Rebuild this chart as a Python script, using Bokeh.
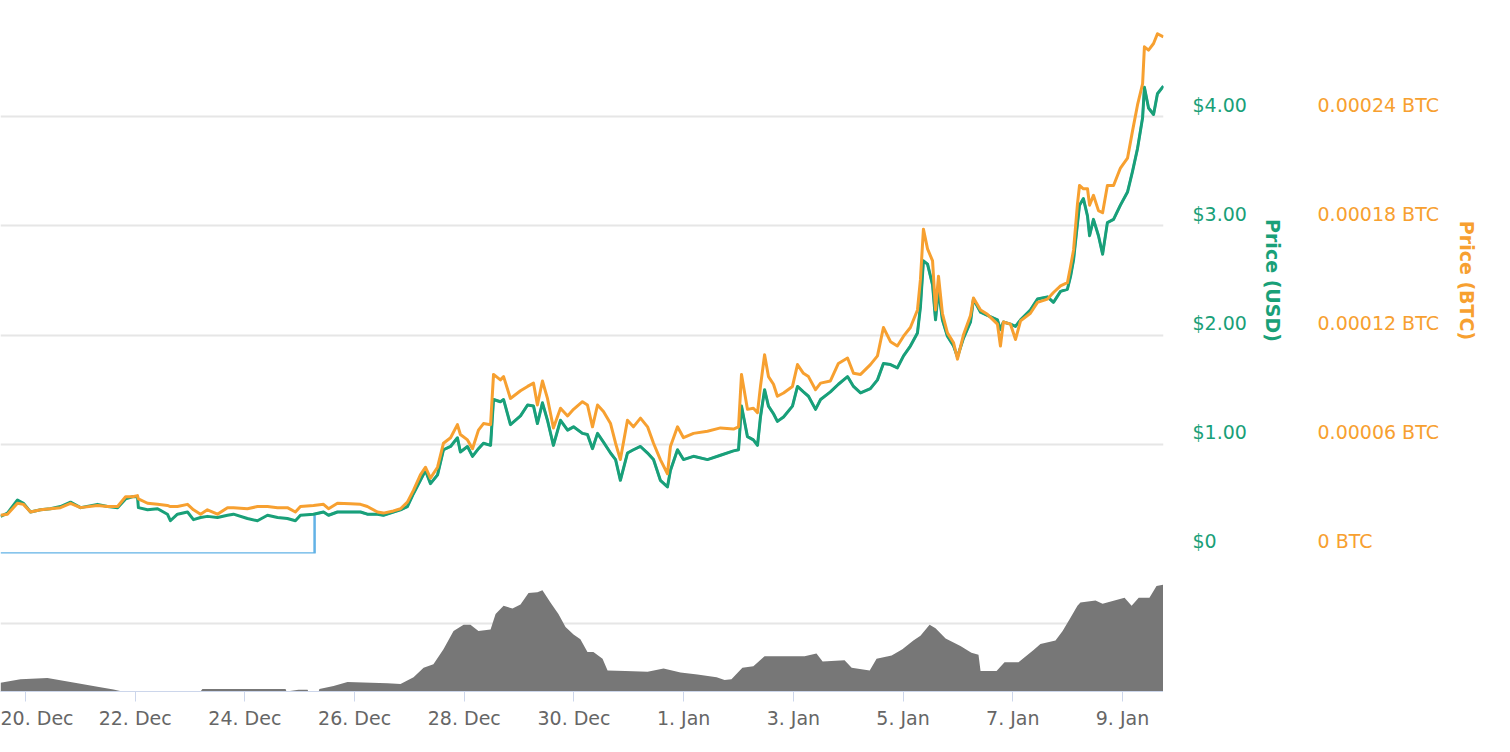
import pandas as pd
from bokeh.plotting import figure
from bokeh.layouts import column
from bokeh.models import (Range1d, LinearAxis, FixedTicker, CustomJSTickFormatter, Grid,
                          DatetimeTickFormatter)
from bokeh.embed import file_html
from bokeh.resources import INLINE

BASE = pd.Timestamp("2017-12-20 00:00")

# ---- price series (hours since 20 Dec 2017 00:00) ----
price_hours = [
    -10.9, -7.9, -3.5, -0.9, 2.2, 6.6, 10.9, 15.3, 19.7, 24.1,
    31.5, 35.9, 40.3, 43.8, 46.8, 49.0, 49.4, 53.4, 57.8, 62.1,
    63.4, 66.5, 70.9, 73.5, 76.6, 79.6, 84.0, 88.4, 91.0, 97.1,
    101.5, 105.9, 110.3, 114.6, 118.1, 120.3, 126.0, 130.4, 132.6, 136.5,
    142.2, 146.6, 149.6, 154.0, 156.6, 161.0, 164.1, 167.1, 169.8, 172.8,
    175.0, 177.2, 180.3, 182.9, 186.0, 189.0, 190.3, 193.4, 195.6, 198.2,
    200.4, 203.5, 204.8, 207.8, 209.2, 212.2, 216.6, 219.7, 222.3, 224.0,
    226.2, 228.4, 231.0, 234.1, 237.2, 239.8, 243.7, 245.9, 248.1, 250.3,
    252.9, 256.0, 258.2, 260.3, 263.4, 266.0, 269.1, 272.2, 274.8, 277.8,
    280.9, 282.2, 285.3, 287.9, 292.3, 298.4, 304.1, 309.8, 312.0, 313.3,
    315.9, 318.5, 320.3, 321.6, 323.4, 325.1, 327.3, 329.0, 331.7, 335.6,
    337.8, 340.4, 342.6, 345.7, 347.9, 352.2, 355.7, 359.7, 362.3, 365.4,
    369.7, 372.8, 375.4, 378.5, 381.5, 384.2, 387.2, 390.3, 391.6, 392.9,
    394.7, 396.9, 398.2, 399.5, 401.2, 403.4, 406.1, 407.8, 410.4, 413.5,
    414.8, 417.9, 420.9, 425.3, 426.6, 427.9, 431.0, 433.2, 435.4, 439.7,
    442.8, 447.2, 449.8, 452.9, 455.9, 457.3, 458.6, 460.3, 461.2, 462.9,
    464.7, 465.6, 467.3, 469.5, 471.3, 473.4, 476.1, 479.1, 482.2, 484.4,
    486.6, 488.8, 489.6, 491.4, 493.6, 495.3, 497.9,
]
price_usd = [
    0.34, 0.37, 0.49, 0.46, 0.38, 0.40, 0.41, 0.43, 0.47, 0.42,
    0.45, 0.43, 0.42, 0.50, 0.52, 0.52, 0.42, 0.40, 0.41, 0.36,
    0.30, 0.36, 0.38, 0.31, 0.33, 0.34, 0.33, 0.35, 0.36, 0.32,
    0.30, 0.35, 0.33, 0.32, 0.30, 0.35, 0.36, 0.38, 0.35, 0.38,
    0.38, 0.38, 0.36, 0.36, 0.35, 0.38, 0.40, 0.43, 0.55, 0.67,
    0.76, 0.64, 0.72, 0.95, 0.98, 1.06, 0.93, 0.98, 0.89, 0.96,
    1.01, 0.99, 1.41, 1.39, 1.41, 1.18, 1.26, 1.36, 1.35, 1.19,
    1.38, 1.22, 0.99, 1.22, 1.13, 1.16, 1.10, 1.09, 0.96, 1.10,
    1.02, 0.92, 0.86, 0.67, 0.92, 0.95, 0.98, 0.92, 0.86, 0.67,
    0.61, 0.76, 0.95, 0.86, 0.89, 0.86, 0.90, 0.94, 0.95, 1.35,
    1.07, 1.04, 0.99, 1.25, 1.50, 1.35, 1.28, 1.21, 1.25, 1.35,
    1.53, 1.48, 1.44, 1.32, 1.41, 1.48, 1.55, 1.62, 1.53, 1.47,
    1.51, 1.59, 1.74, 1.73, 1.70, 1.81, 1.90, 2.02, 2.26, 2.68,
    2.65, 2.46, 2.14, 2.42, 2.14, 1.99, 1.90, 1.80, 1.97, 2.12,
    2.33, 2.21, 2.18, 2.14, 2.05, 2.12, 2.10, 2.08, 2.14, 2.23,
    2.33, 2.35, 2.30, 2.40, 2.42, 2.54, 2.69, 3.02, 3.19, 3.25,
    3.09, 2.91, 3.06, 2.91, 2.74, 3.03, 3.06, 3.19, 3.31, 3.50,
    3.71, 3.99, 4.27, 4.08, 4.02, 4.21, 4.28,
]
price_btc_sat = [
    2100, 2160, 2760, 2700, 2280, 2400, 2460, 2520, 2760, 2520,
    2640, 2580, 2580, 3120, 3120, 3180, 3000, 2760, 2700, 2640,
    2580, 2580, 2700, 2400, 2160, 2400, 2160, 2520, 2520, 2460,
    2580, 2580, 2520, 2520, 2280, 2580, 2640, 2700, 2460, 2760,
    2730, 2700, 2580, 2280, 2220, 2340, 2460, 2820, 3480, 4320,
    4740, 4140, 4740, 6060, 6360, 7080, 6540, 6240, 5760, 6780,
    7140, 7080, 9840, 9540, 9720, 8520, 8940, 9180, 9360, 8160,
    9480, 8520, 6900, 7980, 7560, 7920, 8340, 8160, 6960, 8160,
    7800, 7140, 6060, 5160, 7320, 6960, 7440, 6960, 6060, 5160,
    4380, 5880, 6960, 6360, 6600, 6720, 6900, 6840, 6960, 9840,
    7920, 7980, 7740, 9180, 10920, 9720, 9300, 8640, 8820, 9180,
    10380, 9900, 9720, 9000, 9360, 9480, 10440, 10740, 9900, 9840,
    10380, 10860, 12420, 11640, 11400, 11940, 12420, 13380, 15060, 17820,
    16740, 16080, 13380, 15240, 13200, 12120, 11580, 10680, 12000, 13080,
    14040, 13380, 13140, 12600, 11400, 12720, 12600, 11760, 12780, 13200,
    13800, 13980, 14340, 14700, 14880, 15780, 16680, 19200, 20220, 20040,
    20040, 19140, 19680, 18840, 18720, 20220, 20220, 21180, 21720, 23220,
    24660, 25800, 27840, 27660, 28020, 28560, 28380,
]

# market cap line: zero before listing, then follows the USD price
mcap_lead_hours = [-10.9, 126.5, 126.5]
mcap_lead_usd = [0.0, 0.0, 0.36]

# ---- volume (units of the volume-panel gridline) ----
volume_hours = [
    -10.9, -2.2, 9.6, 22.8, 31.5, 38.5, 42.4, 76.6, 77.4, 113.8,
    114.2, 119.5, 123.4, 123.8, 128.3, 128.6, 134.8, 140.9, 158.4, 164.1,
    169.8, 174.2, 178.5, 182.9, 187.3, 191.7, 194.7, 198.2, 203.5, 205.7,
    209.2, 213.1, 216.6, 220.1, 224.0, 226.2, 229.7, 233.2, 236.3, 239.8,
    242.8, 245.9, 248.5, 252.5, 254.7, 262.5, 272.2, 279.2, 286.6, 294.0,
    302.4, 305.9, 308.9, 313.7, 318.5, 323.4, 331.2, 340.9, 346.1, 348.8,
    358.4, 361.5, 369.4, 372.4, 379.0, 383.7, 388.5, 391.6, 395.6, 398.2,
    402.6, 409.1, 413.9, 417.0, 417.9, 424.9, 428.4, 434.5, 441.1, 444.1,
    450.7, 453.8, 456.8, 460.3, 461.6, 468.2, 471.3, 480.9, 484.0, 487.1,
    491.8, 494.9, 497.9,
]
volume = [
    0.13, 0.18, 0.20, 0.12, 0.07, 0.03, 0.0, 0.0, 0.035, 0.035,
    0.0, 0.025, 0.025, 0.0, 0.0, 0.035, 0.08, 0.14, 0.12, 0.11,
    0.21, 0.35, 0.40, 0.62, 0.89, 0.98, 0.98, 0.89, 0.91, 1.14,
    1.26, 1.22, 1.28, 1.45, 1.46, 1.49, 1.31, 1.14, 0.95, 0.84,
    0.77, 0.58, 0.58, 0.48, 0.31, 0.30, 0.29, 0.34, 0.28, 0.25,
    0.21, 0.17, 0.18, 0.35, 0.37, 0.52, 0.52, 0.52, 0.56, 0.44,
    0.46, 0.35, 0.31, 0.48, 0.53, 0.62, 0.75, 0.82, 0.98, 0.93,
    0.78, 0.67, 0.57, 0.54, 0.30, 0.30, 0.43, 0.43, 0.61, 0.70,
    0.75, 0.89, 1.06, 1.26, 1.31, 1.34, 1.29, 1.38, 1.26, 1.38,
    1.38, 1.55, 1.57,
]

usd_ticks = [0, 1, 2, 3, 4]
btc_ticks = [0, 0.00006, 0.00012, 0.00018, 0.00024]
grid_ticks = [0, 1, 2, 3, 4, 5]
date_ticks = ["2017-12-20", "2017-12-22", "2017-12-24", "2017-12-26", "2017-12-28",
              "2017-12-30", "2018-01-01", "2018-01-03", "2018-01-05", "2018-01-07",
              "2018-01-09"]
x_start = "2017-12-19 13:04"
x_end = "2018-01-09 17:57"

GREEN = "#19a078"
ORANGE = "#f7a030"
BLUE = "#62b2e6"
GREY_GRID = "#e6e6e6"
FONT = "DejaVu Sans"
LABEL_SHIFT = 0.11   # vertical offset of y tick labels above their grid lines


def to_time(hours):
    return [BASE + pd.Timedelta(hours=h) for h in hours]


t_price = to_time(price_hours)
btc = [s / 1e8 for s in price_btc_sat]
mcap_hours = mcap_lead_hours + [h for h in price_hours if h > mcap_lead_hours[1]]
mcap_vals = mcap_lead_usd + [u for h, u in zip(price_hours, price_usd) if h > mcap_lead_hours[1]]

xr = Range1d(pd.Timestamp(x_start), pd.Timestamp(x_end))

# ---------------- price panel ----------------
p = figure(frame_width=1163, frame_height=546, x_range=xr, y_range=Range1d(0, 5),
           x_axis_type="datetime", x_axis_location=None, y_axis_location=None,
           toolbar_location=None, output_backend="svg",
           min_border_left=0, min_border_top=7, min_border_bottom=2, min_border_right=0)
p.outline_line_color = None
p.xgrid.visible = False
p.ygrid.visible = False
p.background_fill_color = "white"
p.border_fill_color = "white"

p.extra_y_ranges = {
    "btc": Range1d(0, 5 * btc_ticks[1]),
    "usd_lab": Range1d(-LABEL_SHIFT, 5 - LABEL_SHIFT),
    "btc_lab": Range1d(-LABEL_SHIFT * btc_ticks[1], (5 - LABEL_SHIFT) * btc_ticks[1]),
}

g = Grid(dimension=1, ticker=FixedTicker(ticks=grid_ticks),
         grid_line_color=GREY_GRID, grid_line_width=2)
p.add_layout(g)

p.line(to_time(mcap_hours), mcap_vals, line_color=BLUE, line_width=2.5)
p.line(t_price, price_usd, line_color=GREEN, line_width=3, line_join="round")
p.line(t_price, btc, y_range_name="btc", line_color=ORANGE, line_width=3, line_join="round")

ax_usd = LinearAxis(y_range_name="usd_lab", ticker=FixedTicker(ticks=usd_ticks),
                    formatter=CustomJSTickFormatter(
                        code="return tick === 0 ? '$0' : '$' + tick.toFixed(2);"),
                    axis_label="Price (USD)")
ax_btc = LinearAxis(y_range_name="btc_lab", ticker=FixedTicker(ticks=btc_ticks),
                    formatter=CustomJSTickFormatter(
                        code="return tick === 0 ? '0 BTC' : tick.toFixed(5) + ' BTC';"),
                    axis_label="Price (BTC)")
for ax, col, so, lso in [(ax_usd, GREEN, 29, 12), (ax_btc, ORANGE, 31, 14)]:
    ax.axis_line_color = None
    ax.major_tick_line_color = None
    ax.minor_tick_line_color = None
    ax.major_tick_out = 0
    ax.major_tick_in = 0
    ax.major_label_standoff = so
    ax.major_label_text_font = FONT
    ax.major_label_text_font_size = "19px"
    ax.major_label_text_color = col
    ax.axis_label_standoff = lso
    ax.axis_label_text_font = FONT
    ax.axis_label_text_font_size = "19px"
    ax.axis_label_text_font_style = "bold"
    ax.axis_label_text_color = col
    p.add_layout(ax, "right")

# ---------------- volume panel ----------------
v = figure(frame_width=1163, frame_height=136, x_range=xr, y_range=Range1d(0, 2),
           x_axis_type="datetime", y_axis_location=None,
           toolbar_location=None, output_backend="svg",
           min_border_left=0, min_border_top=0, min_border_right=0, min_border_bottom=10)
v.outline_line_color = None
v.xgrid.visible = False
v.ygrid.visible = False
v.add_layout(Grid(dimension=1, ticker=FixedTicker(ticks=[1]),
                  grid_line_color=GREY_GRID, grid_line_width=2))
v.varea(x=to_time(volume_hours), y1=0, y2=volume, fill_color="#777777")

xa = v.xaxis[0]
xa.ticker = FixedTicker(ticks=[pd.Timestamp(d).value / 1e6 for d in date_ticks])
fmt = "%-d. %b"
xa.formatter = DatetimeTickFormatter(days=fmt, months=fmt, hours=fmt, years=fmt,
                                     minutes=fmt, hourmin=fmt)
xa.axis_line_color = "#ccd6eb"
xa.major_tick_line_color = "#ccd6eb"
xa.minor_tick_line_color = None
xa.major_tick_out = 10
xa.major_tick_in = 0
xa.major_label_standoff = 5
xa.major_label_text_font = FONT
xa.major_label_text_font_size = "19px"
xa.major_label_text_color = "#666666"

layout = column(p, v, spacing=0)
open("out.html", "w").write(file_html(layout, INLINE))
